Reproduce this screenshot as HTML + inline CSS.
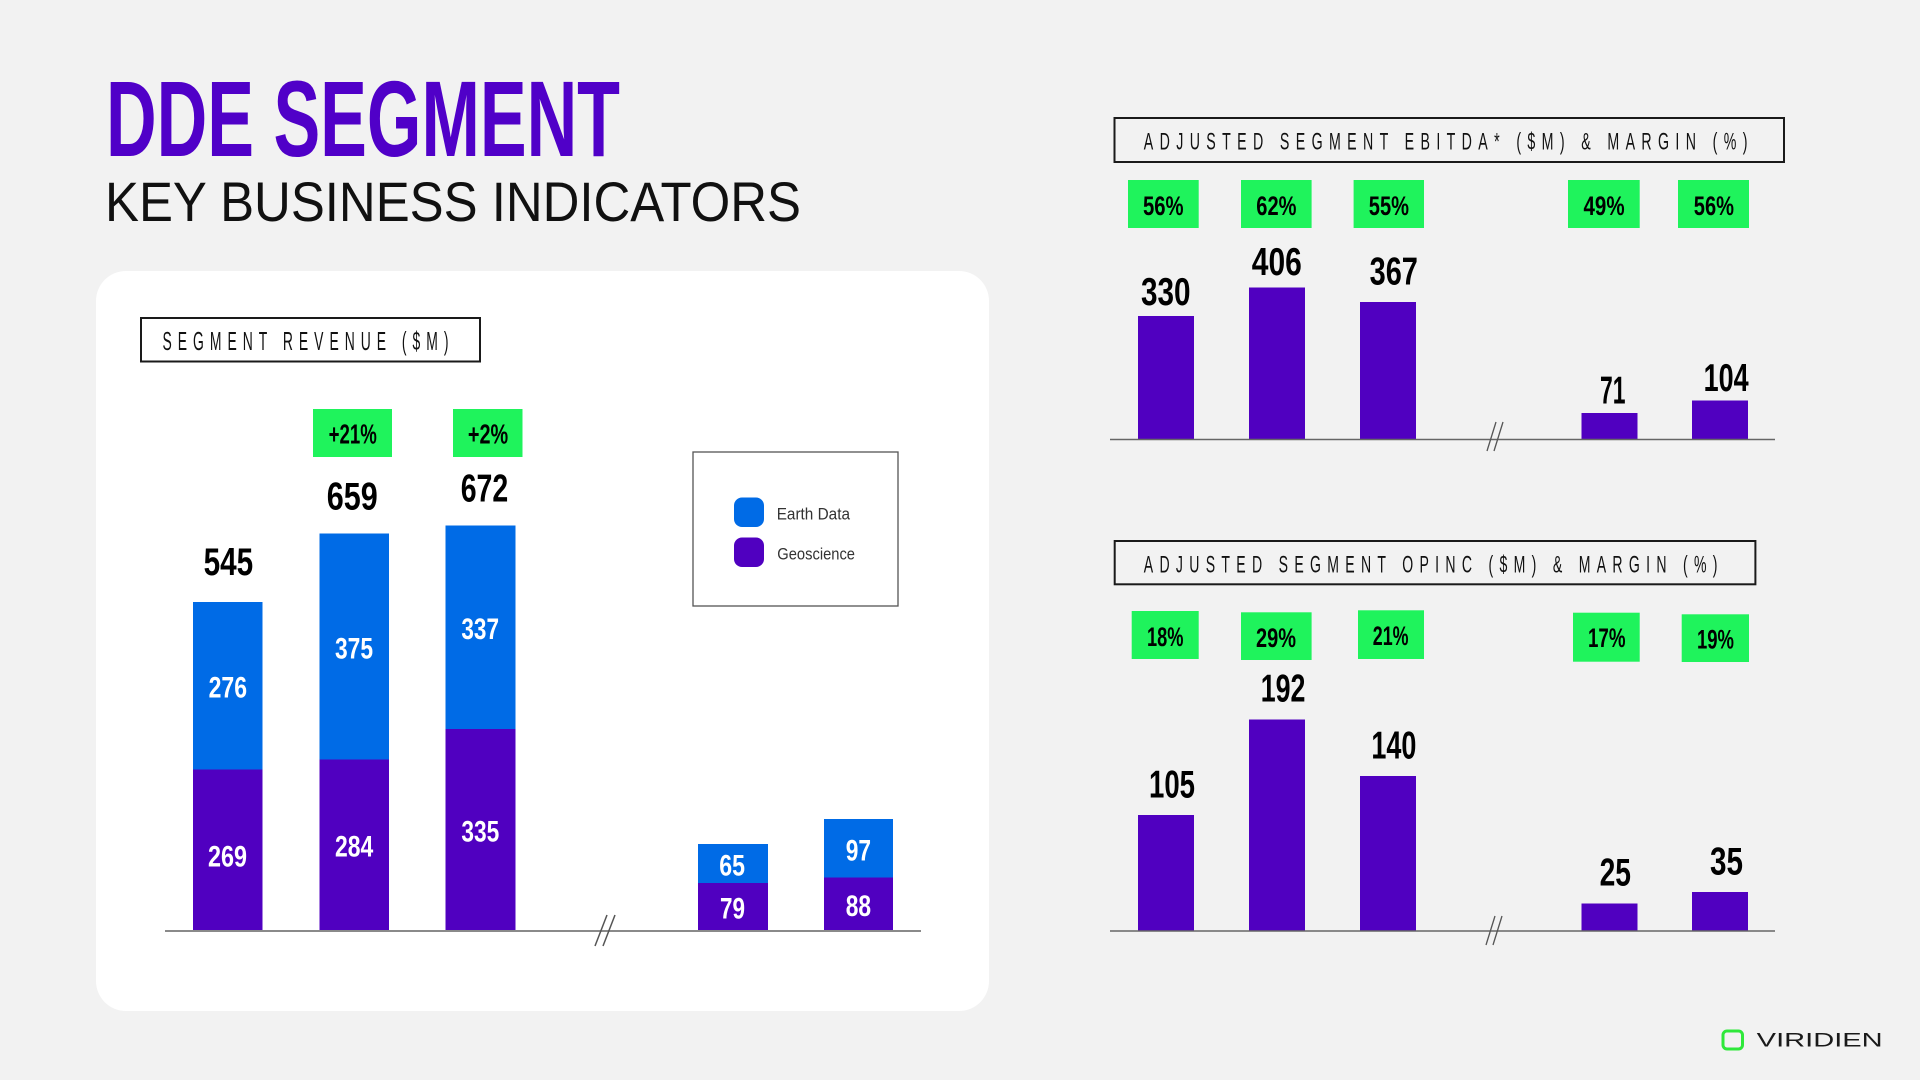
<!DOCTYPE html>
<html><head><meta charset="utf-8"><style>
html,body{margin:0;padding:0;background:#f2f2f2;}
svg{display:block;}
.n{font-family:"Liberation Sans Narrow","Liberation Sans",sans-serif;font-weight:bold;}
.t{font-family:"Liberation Sans Narrow","Liberation Sans",sans-serif;font-weight:normal;}
.l{font-family:"Liberation Sans",sans-serif;}
</style></head><body>
<svg width="1920" height="1080" viewBox="0 0 1920 1080" xmlns="http://www.w3.org/2000/svg">
<rect x="0" y="0" width="1920" height="1080" fill="#f2f2f2"/>
<!-- Titles -->
<text class="n" x="106" y="156" font-size="108" fill="#5000c8" textLength="514" lengthAdjust="spacingAndGlyphs">DDE SEGMENT</text>
<text class="t" x="105" y="221" font-size="56" fill="#111" textLength="696" lengthAdjust="spacingAndGlyphs">KEY BUSINESS INDICATORS</text>

<!-- Left panel -->
<rect x="96" y="271" width="893" height="740" rx="30" ry="30" fill="#ffffff"/>
<rect x="141" y="318" width="339" height="43.5" fill="none" stroke="#1a1a1a" stroke-width="2"/>
<text class="t" x="162.5" y="350" font-size="25.5" fill="#111" letter-spacing="11" textLength="292" lengthAdjust="spacingAndGlyphs">SEGMENT REVENUE ($M)</text>

<!-- Left bars -->
<g shape-rendering="crispEdges">
<rect x="193" y="602" width="69.5" height="167.5" fill="#006be6"/>
<rect x="193" y="769.5" width="69.5" height="161" fill="#5000c0"/>
<rect x="319.5" y="533.6" width="69.5" height="226.1" fill="#006be6"/>
<rect x="319.5" y="759.7" width="69.5" height="170.9" fill="#5000c0"/>
<rect x="445.5" y="525.5" width="70" height="203.3" fill="#006be6"/>
<rect x="445.5" y="728.8" width="70" height="201.8" fill="#5000c0"/>
<rect x="698" y="844" width="70" height="39" fill="#006be6"/>
<rect x="698" y="883" width="70" height="47.6" fill="#5000c0"/>
<rect x="824" y="819" width="69" height="58.5" fill="#006be6"/>
<rect x="824" y="877.5" width="69" height="53.1" fill="#5000c0"/>
</g>
<line x1="165" y1="931" x2="921" y2="931" stroke="#8a8a8a" stroke-width="2"/>
<line x1="595" y1="946" x2="607" y2="915" stroke="#555" stroke-width="1.5"/>
<line x1="603" y1="946" x2="615" y2="915" stroke="#555" stroke-width="1.5"/>

<!-- Left inner labels -->
<g fill="#ffffff" font-size="30">
<text class="n" x="208.6" y="697.6" textLength="38.4" lengthAdjust="spacingAndGlyphs">276</text>
<text class="n" x="208" y="866.4" textLength="39" lengthAdjust="spacingAndGlyphs">269</text>
<text class="n" x="335" y="658.4" textLength="38" lengthAdjust="spacingAndGlyphs">375</text>
<text class="n" x="335" y="856.6" textLength="38.2" lengthAdjust="spacingAndGlyphs">284</text>
<text class="n" x="461.4" y="638.8" textLength="37.6" lengthAdjust="spacingAndGlyphs">337</text>
<text class="n" x="461.4" y="841.7" textLength="37.9" lengthAdjust="spacingAndGlyphs">335</text>
<text class="n" x="719.3" y="875.5" textLength="25.7" lengthAdjust="spacingAndGlyphs">65</text>
<text class="n" x="720" y="918.7" textLength="25" lengthAdjust="spacingAndGlyphs">79</text>
<text class="n" x="845.7" y="860.5" textLength="25.3" lengthAdjust="spacingAndGlyphs">97</text>
<text class="n" x="845.7" y="916" textLength="25.3" lengthAdjust="spacingAndGlyphs">88</text>
</g>

<!-- Left totals -->
<g fill="#000" font-size="39">
<text class="n" x="203.6" y="575" textLength="49.6" lengthAdjust="spacingAndGlyphs">545</text>
<text class="n" x="326.8" y="509.6" textLength="51" lengthAdjust="spacingAndGlyphs">659</text>
<text class="n" x="460.7" y="501.6" textLength="47.5" lengthAdjust="spacingAndGlyphs">672</text>
</g>

<!-- Left green boxes -->
<rect x="313" y="409" width="79" height="48" fill="#1ff35c"/>
<rect x="453" y="409" width="69.5" height="48" fill="#1ff35c"/>
<text class="n" x="328.6" y="443.5" font-size="28" fill="#000" textLength="48.2" lengthAdjust="spacingAndGlyphs">+21%</text>
<text class="n" x="467.9" y="443.5" font-size="28" fill="#000" textLength="40.3" lengthAdjust="spacingAndGlyphs">+2%</text>

<!-- Legend -->
<rect x="693" y="452" width="205" height="154" fill="#fff" stroke="#555" stroke-width="1.3"/>
<rect x="734" y="497.5" width="30" height="29.5" rx="8" ry="8" fill="#006be6"/>
<rect x="734" y="537.5" width="30" height="29.5" rx="8" ry="8" fill="#5000c0"/>
<text class="l" x="776.7" y="519.5" font-size="16.5" fill="#333" textLength="73.3" lengthAdjust="spacingAndGlyphs">Earth Data</text>
<text class="l" x="777.3" y="559.7" font-size="16.5" fill="#333" textLength="77.7" lengthAdjust="spacingAndGlyphs">Geoscience</text>

<!-- EBITDA chart -->
<rect x="1114.5" y="118" width="669.5" height="44" fill="none" stroke="#1a1a1a" stroke-width="2"/>
<text class="t" x="1143.8" y="149.3" font-size="24.5" fill="#111" letter-spacing="11" textLength="610" lengthAdjust="spacingAndGlyphs">ADJUSTED SEGMENT EBITDA* ($M) &amp; MARGIN (%)</text>
<g fill="#1ff35c">
<rect x="1128" y="180" width="70.7" height="48"/>
<rect x="1241" y="180" width="70.6" height="48"/>
<rect x="1353.6" y="180" width="70.4" height="48"/>
<rect x="1568" y="180" width="71.7" height="48"/>
<rect x="1678" y="180" width="71" height="48"/>
</g>
<g fill="#000" font-size="27">
<text class="n" x="1143" y="215" textLength="40.6" lengthAdjust="spacingAndGlyphs">56%</text>
<text class="n" x="1256.3" y="215" textLength="40.1" lengthAdjust="spacingAndGlyphs">62%</text>
<text class="n" x="1368.8" y="215" textLength="40.2" lengthAdjust="spacingAndGlyphs">55%</text>
<text class="n" x="1583.5" y="215" textLength="41.1" lengthAdjust="spacingAndGlyphs">49%</text>
<text class="n" x="1693.8" y="215" textLength="40.2" lengthAdjust="spacingAndGlyphs">56%</text>
</g>
<g fill="#5000c0" shape-rendering="crispEdges">
<rect x="1138" y="316" width="56" height="123.3"/>
<rect x="1249" y="287.6" width="56" height="151.7"/>
<rect x="1360" y="302" width="56" height="137.3"/>
<rect x="1581.7" y="412.8" width="55.8" height="26.5"/>
<rect x="1692" y="400.4" width="56" height="38.9"/>
</g>
<line x1="1110" y1="439.5" x2="1775" y2="439.5" stroke="#666" stroke-width="1.5"/>
<line x1="1487" y1="451" x2="1496" y2="422" stroke="#555" stroke-width="1.3"/>
<line x1="1494" y1="451" x2="1503" y2="422" stroke="#555" stroke-width="1.3"/>
<g fill="#000" font-size="39">
<text class="n" x="1141" y="305" textLength="49.6" lengthAdjust="spacingAndGlyphs">330</text>
<text class="n" x="1251.8" y="275" textLength="50" lengthAdjust="spacingAndGlyphs">406</text>
<text class="n" x="1369.6" y="284.3" textLength="48.3" lengthAdjust="spacingAndGlyphs">367</text>
<text class="n" x="1600" y="403.3" textLength="25.5" lengthAdjust="spacingAndGlyphs">71</text>
<text class="n" x="1703.6" y="391" textLength="45" lengthAdjust="spacingAndGlyphs">104</text>
</g>

<!-- OPINC chart -->
<rect x="1114.7" y="541" width="640.7" height="43.3" fill="none" stroke="#1a1a1a" stroke-width="2"/>
<text class="t" x="1143.8" y="572.7" font-size="24.5" fill="#111" letter-spacing="11" textLength="580" lengthAdjust="spacingAndGlyphs">ADJUSTED SEGMENT OPINC ($M) &amp; MARGIN (%)</text>
<g fill="#1ff35c">
<rect x="1131.7" y="611" width="67" height="48"/>
<rect x="1241" y="612.3" width="70.6" height="47.7"/>
<rect x="1358" y="610.3" width="66" height="48.7"/>
<rect x="1573" y="612.7" width="66.7" height="49"/>
<rect x="1681.7" y="614.3" width="67.3" height="47.7"/>
</g>
<g fill="#000" font-size="27">
<text class="n" x="1147" y="646" textLength="36.5" lengthAdjust="spacingAndGlyphs">18%</text>
<text class="n" x="1256" y="647" textLength="40" lengthAdjust="spacingAndGlyphs">29%</text>
<text class="n" x="1372.8" y="645" textLength="35.7" lengthAdjust="spacingAndGlyphs">21%</text>
<text class="n" x="1588" y="647" textLength="37.5" lengthAdjust="spacingAndGlyphs">17%</text>
<text class="n" x="1697" y="648.7" textLength="37" lengthAdjust="spacingAndGlyphs">19%</text>
</g>
<g fill="#5000c0" shape-rendering="crispEdges">
<rect x="1138" y="815" width="56" height="116"/>
<rect x="1249" y="719.3" width="56" height="211.7"/>
<rect x="1360" y="776" width="56" height="155"/>
<rect x="1581.7" y="903.3" width="55.8" height="27.7"/>
<rect x="1692" y="892" width="56" height="39"/>
</g>
<line x1="1110" y1="931" x2="1775" y2="931" stroke="#666" stroke-width="1.5"/>
<line x1="1486" y1="945" x2="1495" y2="916" stroke="#555" stroke-width="1.3"/>
<line x1="1493" y1="945" x2="1502" y2="916" stroke="#555" stroke-width="1.3"/>
<g fill="#000" font-size="39">
<text class="n" x="1149" y="797.3" textLength="46" lengthAdjust="spacingAndGlyphs">105</text>
<text class="n" x="1260.7" y="701.7" textLength="44.7" lengthAdjust="spacingAndGlyphs">192</text>
<text class="n" x="1371.4" y="758.7" textLength="45" lengthAdjust="spacingAndGlyphs">140</text>
<text class="n" x="1599.6" y="885.7" textLength="31.4" lengthAdjust="spacingAndGlyphs">25</text>
<text class="n" x="1710" y="874.7" textLength="33" lengthAdjust="spacingAndGlyphs">35</text>
</g>

<!-- Logo -->
<rect x="1723" y="1031" width="19.5" height="18" rx="4" ry="4" fill="none" stroke="#2ee83a" stroke-width="3"/>
<text class="l" x="1756.7" y="1046.7" font-size="19.5" fill="#1a1a1a" textLength="126" lengthAdjust="spacingAndGlyphs">VIRIDIEN</text>
</svg>
</body></html>
